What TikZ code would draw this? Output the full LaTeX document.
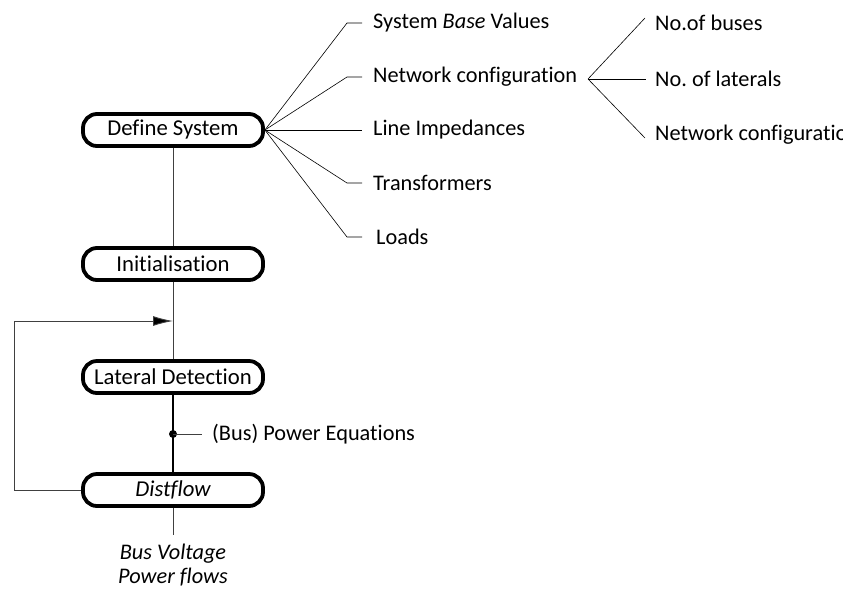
\documentclass[tikz,border=0pt]{standalone}
\usepackage{fontspec}
\setmainfont{Carlito}[Ligatures=NoCommon]
\usetikzlibrary{arrows.meta}
\frenchspacing
\begin{document}
\begin{tikzpicture}[x=1pt,y=-1pt,
  stepbox/.style={draw=black, line width=3.8pt, rounded corners=14pt,
    minimum width=180pt, minimum height=32pt, inner sep=0pt, fill=white,
    font=\fontsize{22.7}{26}\selectfont},
  label/.style={anchor=west, inner sep=0pt, font=\fontsize{22.3}{26}\selectfont},
  wire/.style={draw=black!75, line width=0.9pt},
  fan/.style={draw=black, line width=0.6pt}]
\useasboundingbox (0,0) rectangle (843,590);
\clip (0,0) rectangle (843,590);

% main flow
\node[stepbox] (def)  at (173,130) {Define System};
\node[stepbox] (init) at (173,264) {Initialisation};
\node[stepbox] (lat)  at (173,377) {Lateral Detection};
\node[stepbox] (dist) at (173,490) {\itshape Distflow};
\coordinate (join) at (173,321);
\coordinate (tap)  at (173,434);
\coordinate (out)  at (173,535);

\draw[wire] (def.south) -- (init.north);
\draw[wire] (init.south) -- (lat.north);
\draw[draw=black, line width=1.1pt] (lat.south) -- (dist.north);
\draw[wire] (dist.south) -- (out);

% feedback loop
\draw[wire, -{Latex[length=20pt,width=10pt,fill=black]}] (dist.west) -- (14,490) |- (join);

% power equations tap
\fill (tap) circle (4pt);
\node[label] (peq) at (212,434) {(Bus) Power Equations};
\draw[wire] (tap) -- (202,434);

% outputs
\node[inner sep=0pt, align=center, font=\fontsize{22.3}{24}\selectfont\itshape] (res) at (173,565) {Bus Voltage\\Power flows};

% system definition items
\node[label] (base) at (373,23)  {System \textit{Base} Values};
\node[label] (net)  at (373,77)  {Network configuration};
\node[label] (imp)  at (373,130) {Line Impedances};
\node[label] (tra)  at (373,183) {Transformers};
\node[label] (lod)  at (376,237) {Loads};
\draw[fan] (def.east) -- (347,23)  -- (362,23);
\draw[fan] (def.east) -- (347,77)  -- (362,77);
\draw[fan] (def.east) -- (362,130);
\draw[fan] (def.east) -- (347,183) -- (362,183);
\draw[fan] (def.east) -- (347,237) -- (362,237);

% network configuration items
\coordinate (nv) at (588,79);
\node[label] (nb) at (655,23)  {No.of buses};
\node[label] (nl) at (655,79)  {No. of laterals};
\node[label] (nc) at (655,135) {Network configuration};
\draw[fan] (nv) -- (645,18);
\draw[fan] (nv) -- (646,79);
\draw[fan] (nv) -- (645,138);
\end{tikzpicture}
\end{document}
